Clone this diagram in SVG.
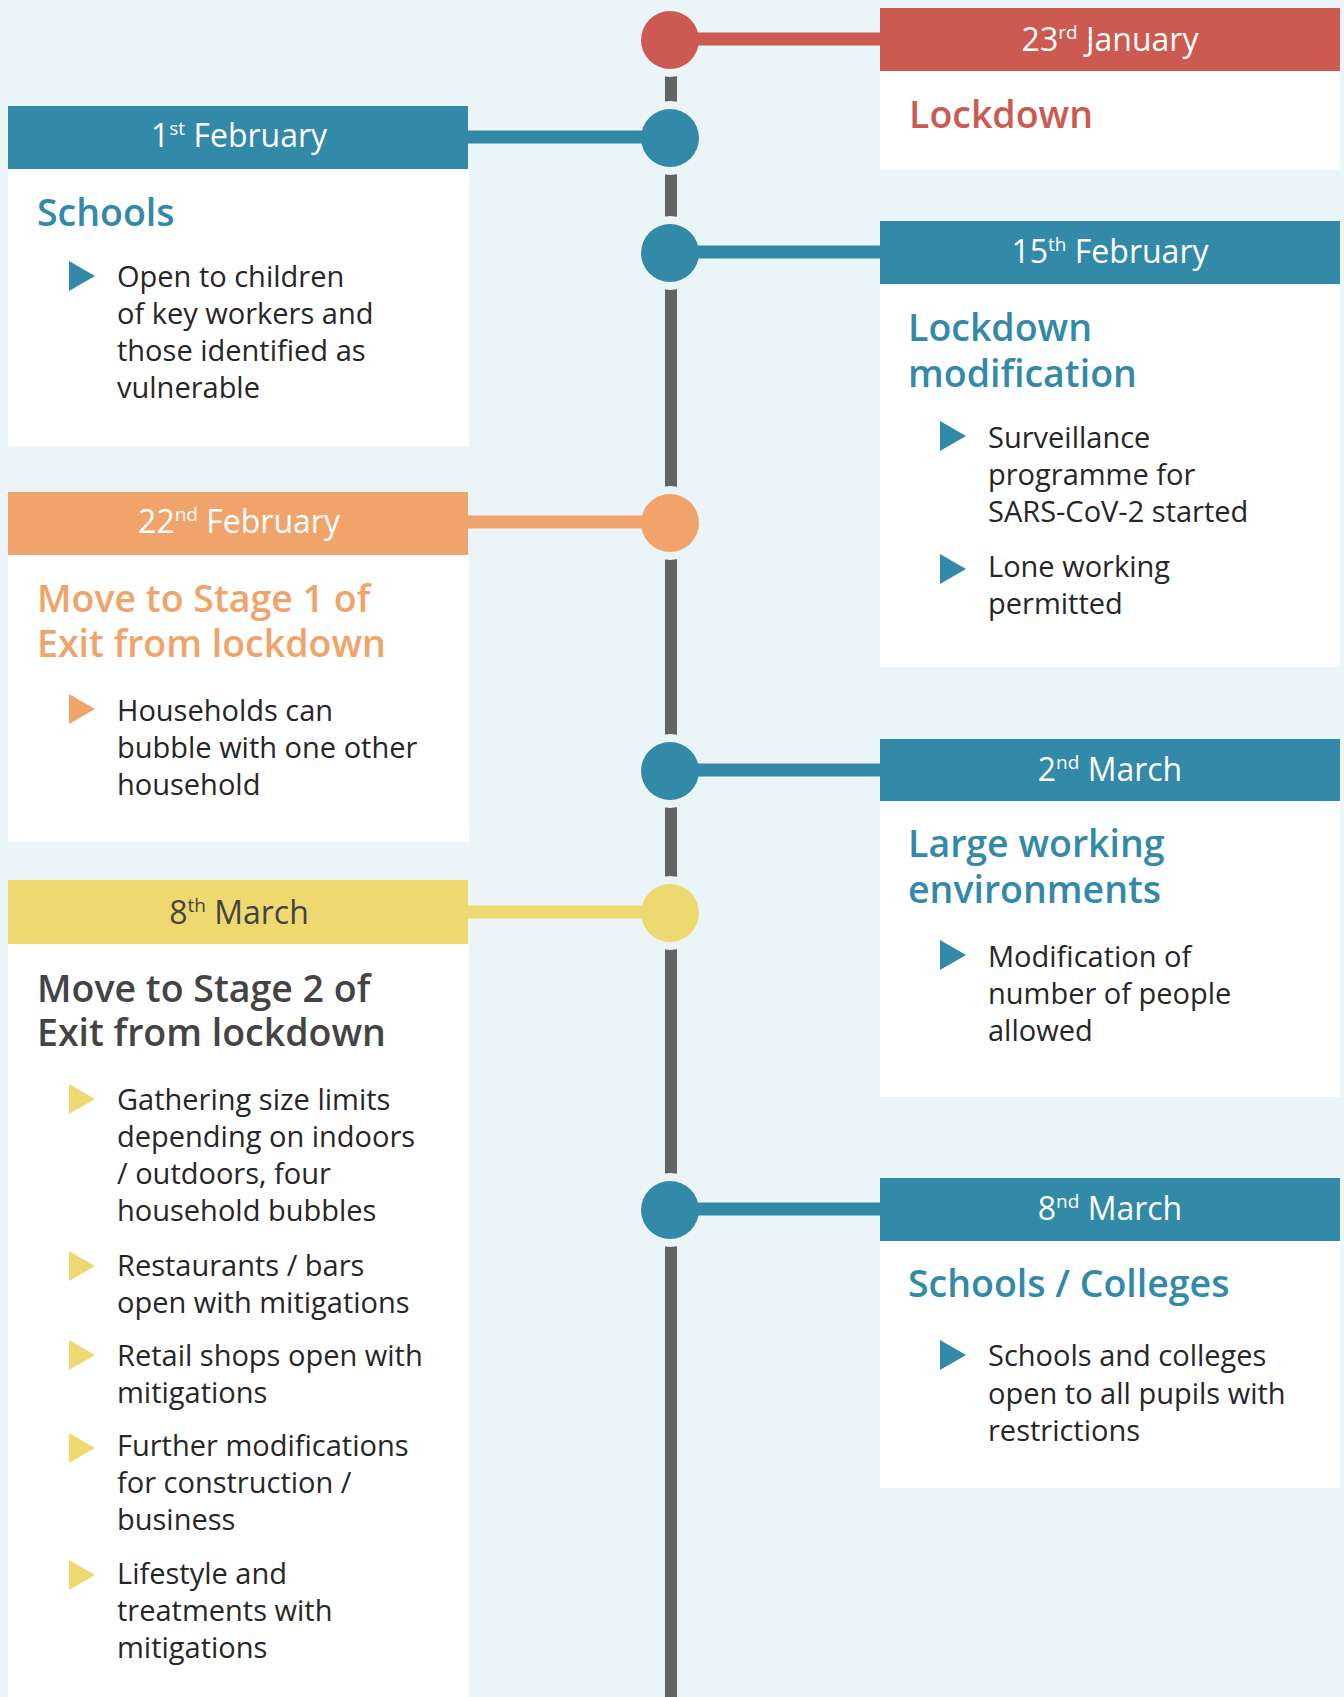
<svg xmlns="http://www.w3.org/2000/svg" width="1344" height="1697" viewBox="0 0 1344 1697">
<style>
.bg{fill:#ebf4f7}
.body{fill:#ffffff}
.teal{fill:#3389a8}
.red{fill:#cc5a50}
.orange{fill:#f0a46c}
.yellow{fill:#eed970}
.hdr{font-family:"Open Sans","Noto Sans",sans-serif;font-size:32px;text-anchor:middle;fill:#ffffff}
.hdr-dark{fill:#444444}
.sup{font-size:19px}
.title{font-family:"Open Sans","Noto Sans",sans-serif;font-size:37.5px;font-weight:600}
.txt{font-family:"Open Sans","Noto Sans",sans-serif;font-size:29px;fill:#262626}
.t-teal{fill:#3389a8}
.t-red{fill:#cc5a50}
.t-orange{fill:#f0a46c}
.t-dark{fill:#444444}
.spine{stroke:#636363;stroke-width:12}
.conn{stroke-width:13}
</style>
<rect class="bg" x="0" y="0" width="1344" height="1697"/>

<g id="connectors">
  <line class="spine" x1="671" y1="40" x2="671" y2="1697"/>
  <g id="gaps" fill="#ebf4f7">
    <circle cx="670" cy="40" r="37"/>
    <circle cx="670" cy="138" r="37"/>
    <circle cx="670" cy="253" r="37"/>
    <circle cx="670" cy="523" r="37"/>
    <circle cx="670" cy="771" r="37"/>
    <circle cx="670" cy="913" r="37"/>
    <circle cx="670" cy="1210" r="37"/>
  </g>
  <line class="conn" stroke="#cc5a50" x1="670" y1="39" x2="880" y2="39"/>
  <line class="conn" stroke="#3389a8" x1="468" y1="137" x2="670" y2="137"/>
  <line class="conn" stroke="#3389a8" x1="670" y1="252" x2="880" y2="252"/>
  <line class="conn" stroke="#f0a46c" x1="468" y1="522" x2="670" y2="522"/>
  <line class="conn" stroke="#3389a8" x1="670" y1="770" x2="880" y2="770"/>
  <line class="conn" stroke="#eed970" x1="468" y1="912" x2="670" y2="912"/>
  <line class="conn" stroke="#3389a8" x1="670" y1="1209" x2="880" y2="1209"/>
  <circle class="red" cx="670" cy="40" r="29"/>
  <circle class="teal" cx="670" cy="138" r="29"/>
  <circle class="teal" cx="670" cy="253" r="29"/>
  <circle class="orange" cx="670" cy="523" r="29"/>
  <circle class="teal" cx="670" cy="771" r="29"/>
  <circle class="yellow" cx="670" cy="913" r="29"/>
  <circle class="teal" cx="670" cy="1210" r="29"/>
</g>

<g id="node-23jan">
  <rect class="body" x="880" y="71" width="460" height="99"/>
  <rect class="red" x="880" y="8" width="460" height="63"/>
  <text class="hdr" x="1110" y="51">23<tspan class="sup" dy="-12">rd</tspan><tspan dy="12"> January</tspan></text>
  <text class="title t-red" x="909" y="128">Lockdown</text>
</g>

<g id="node-1feb">
  <rect class="body" x="8" y="169" width="461" height="277"/>
  <rect class="teal" x="8" y="106" width="460" height="63"/>
  <text class="hdr" x="239" y="147">1<tspan class="sup" dy="-12">st</tspan><tspan dy="12"> February</tspan></text>
  <text class="title t-teal" x="37" y="226">Schools</text>
  <polygon class="teal" points="69,261 95,276 69,291"/>
  <text class="txt" x="117" y="287">Open to children</text>
  <text class="txt" x="117" y="324">of key workers and</text>
  <text class="txt" x="117" y="361">those identified as</text>
  <text class="txt" x="117" y="398">vulnerable</text>
</g>

<g id="node-15feb">
  <rect class="body" x="880" y="284" width="460" height="383"/>
  <rect class="teal" x="880" y="221" width="460" height="63"/>
  <text class="hdr" x="1110" y="263">15<tspan class="sup" dy="-12">th</tspan><tspan dy="12"> February</tspan></text>
  <text class="title t-teal" x="908" y="341">Lockdown</text>
  <text class="title t-teal" x="908" y="387">modification</text>
  <polygon class="teal" points="940,421 966,436 940,451"/>
  <text class="txt" x="988" y="448">Surveillance</text>
  <text class="txt" x="988" y="485">programme for</text>
  <text class="txt" x="988" y="522">SARS-CoV-2 started</text>
  <polygon class="teal" points="940,554 966,569 940,584"/>
  <text class="txt" x="988" y="577">Lone working</text>
  <text class="txt" x="988" y="614">permitted</text>
</g>

<g id="node-22feb">
  <rect class="body" x="8" y="555" width="461" height="287"/>
  <rect class="orange" x="8" y="492" width="460" height="63"/>
  <text class="hdr" x="239" y="533">22<tspan class="sup" dy="-12">nd</tspan><tspan dy="12"> February</tspan></text>
  <text class="title t-orange" x="37" y="612">Move to Stage 1 of</text>
  <text class="title t-orange" x="37" y="657">Exit from lockdown</text>
  <polygon class="orange" points="69,694 95,709 69,724"/>
  <text class="txt" x="117" y="721">Households can</text>
  <text class="txt" x="117" y="758">bubble with one other</text>
  <text class="txt" x="117" y="795">household</text>
</g>

<g id="node-2mar">
  <rect class="body" x="880" y="801" width="460" height="296"/>
  <rect class="teal" x="880" y="739" width="460" height="62"/>
  <text class="hdr" x="1110" y="781">2<tspan class="sup" dy="-12">nd</tspan><tspan dy="12"> March</tspan></text>
  <text class="title t-teal" x="908" y="857">Large working</text>
  <text class="title t-teal" x="908" y="903">environments</text>
  <polygon class="teal" points="940,940 966,955 940,970"/>
  <text class="txt" x="988" y="967">Modification of</text>
  <text class="txt" x="988" y="1004">number of people</text>
  <text class="txt" x="988" y="1041">allowed</text>
</g>

<g id="node-8mar">
  <rect class="body" x="8" y="944" width="461" height="753"/>
  <rect class="yellow" x="8" y="880" width="460" height="64"/>
  <text class="hdr hdr-dark" x="239" y="924">8<tspan class="sup" dy="-12">th</tspan><tspan dy="12"> March</tspan></text>
  <text class="title t-dark" x="37" y="1002">Move to Stage 2 of</text>
  <text class="title t-dark" x="37" y="1046">Exit from lockdown</text>
  <polygon class="yellow" points="69,1084 95,1099 69,1114"/>
  <text class="txt" x="117" y="1110">Gathering size limits</text>
  <text class="txt" x="117" y="1147">depending on indoors</text>
  <text class="txt" x="117" y="1184">/ outdoors, four</text>
  <text class="txt" x="117" y="1221">household bubbles</text>
  <polygon class="yellow" points="69,1251 95,1266 69,1281"/>
  <text class="txt" x="117" y="1276">Restaurants / bars</text>
  <text class="txt" x="117" y="1313">open with mitigations</text>
  <polygon class="yellow" points="69,1340 95,1355 69,1370"/>
  <text class="txt" x="117" y="1366">Retail shops open with</text>
  <text class="txt" x="117" y="1403">mitigations</text>
  <polygon class="yellow" points="69,1433 95,1448 69,1463"/>
  <text class="txt" x="117" y="1456">Further modifications</text>
  <text class="txt" x="117" y="1493">for construction /</text>
  <text class="txt" x="117" y="1530">business</text>
  <polygon class="yellow" points="69,1560 95,1575 69,1590"/>
  <text class="txt" x="117" y="1584">Lifestyle and</text>
  <text class="txt" x="117" y="1621">treatments with</text>
  <text class="txt" x="117" y="1658">mitigations</text>
</g>

<g id="node-8nd-mar">
  <rect class="body" x="880" y="1241" width="460" height="247"/>
  <rect class="teal" x="880" y="1178" width="460" height="63"/>
  <text class="hdr" x="1110" y="1220">8<tspan class="sup" dy="-12">nd</tspan><tspan dy="12"> March</tspan></text>
  <text class="title t-teal" x="908" y="1297">Schools / Colleges</text>
  <polygon class="teal" points="940,1340 966,1355 940,1370"/>
  <text class="txt" x="988" y="1366">Schools and colleges</text>
  <text class="txt" x="988" y="1404">open to all pupils with</text>
  <text class="txt" x="988" y="1441">restrictions</text>
</g>
</svg>
